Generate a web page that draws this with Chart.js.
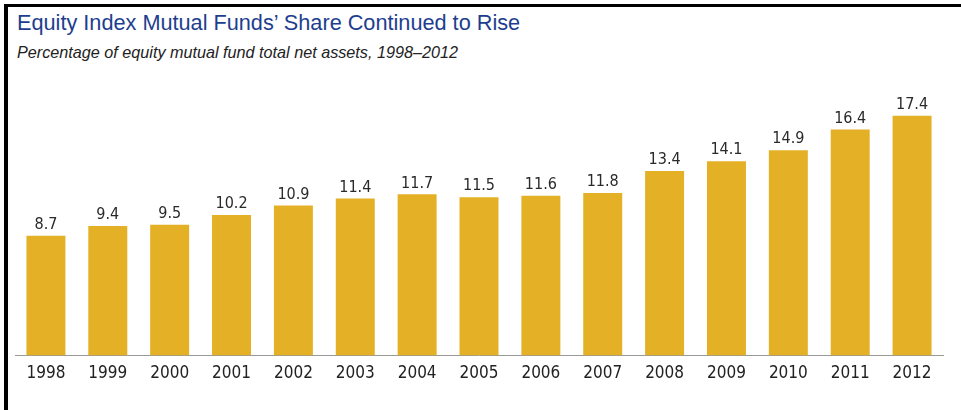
<!DOCTYPE html>
<html>
<head>
<meta charset="utf-8">
<script src="https://cdn.jsdelivr.net/npm/chart.js@4.4.0/dist/chart.umd.min.js"></script>
<style>
html,body{margin:0;padding:0;background:#fff;width:961px;height:410px;overflow:hidden;}
#frame{position:absolute;left:4px;top:4px;width:953px;height:403px;border-left:4px solid #000;border-top:3px solid #000;}
#title{position:absolute;left:17px;top:10px;font:21.7px "Liberation Sans",Arial,sans-serif;color:#1d3e8e;white-space:nowrap;}
#sub{position:absolute;left:17px;top:43px;font:italic 16.2px "Liberation Sans",Arial,sans-serif;color:#222;white-space:nowrap;}
#wrap{position:absolute;left:8px;top:7px;width:953px;height:403px;}
</style>
</head>
<body>
<div id="frame"></div>
<div id="title">Equity Index Mutual Funds’ Share Continued to Rise</div>
<div id="sub">Percentage of equity mutual fund total net assets, 1998–2012</div>
<div id="wrap"><canvas id="chart"></canvas></div>
<script>
const years = ["1998","1999","2000","2001","2002","2003","2004","2005","2006","2007","2008","2009","2010","2011","2012"];
const shares = [8.7, 9.4, 9.5, 10.2, 10.9, 11.4, 11.7, 11.5, 11.6, 11.8, 13.4, 14.1, 14.9, 16.4, 17.4];

const labelFont = '"DejaVu Sans Condensed","Liberation Sans Narrow",sans-serif';

// draw the value above each bar
const valueLabels = {
  id: "valueLabels",
  afterDatasetsDraw(chart){
    const ctx = chart.ctx;
    const meta = chart.getDatasetMeta(0);
    ctx.save();
    ctx.font = "16px " + labelFont;
    ctx.fillStyle = "#2a2a2a";
    ctx.textAlign = "center";
    ctx.textBaseline = "bottom";
    meta.data.forEach((bar, i) => {
      ctx.fillText(shares[i].toFixed(1), bar.x, bar.y - 3);
    });
    ctx.restore();
  }
};

new Chart(document.getElementById("chart"), {
  type: "bar",
  data: {
    labels: years,
    datasets: [{
      data: shares,
      backgroundColor: "#E4B025",
      categoryPercentage: 1,
      barPercentage: 0.63
    }]
  },
  options: {
    responsive: true,
    maintainAspectRatio: false,
    animation: false,
    layout: { padding: { left: 7, right: 18, top: 73, bottom: 26 } },
    plugins: { legend: { display: false }, tooltip: { enabled: false } },
    scales: {
      x: {
        grid: { display: false },
        border: { display: true, color: "#999", width: 1 },
        ticks: { color: "#222", font: { family: labelFont, size: 17 }, padding: 0 }
      },
      y: {
        display: false,
        min: 0,
        max: 20
      }
    }
  },
  plugins: [valueLabels]
});
</script>
</body>
</html>
